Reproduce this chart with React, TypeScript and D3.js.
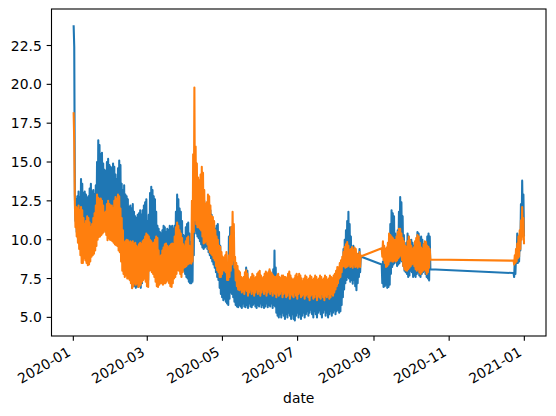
import React from 'react'
import * as d3 from 'd3'

// x tick labels (also the tick dates, first of month)
const xTickLabels = ['2020-01', '2020-03', '2020-05', '2020-07', '2020-09', '2020-11', '2021-01']
const yTicks = [5.0, 7.5, 10.0, 12.5, 15.0, 17.5, 20.0, 22.5]

// start day of each continuous stretch of data
const segmentStarts = ['2020-01-01', '2020-09-07', '2020-12-23']

// daily high / low of each series
// stretch 1: 2020-01-01 .. 2020-08-21
const blueHigh1 = [
  23.8, 12.9, 12.6, 12.8, 13.1, 12.7, 13.9, 13.6, 13.0, 13.1,
  12.9, 12.7, 12.8, 13.3, 13.6, 13.1, 13.2, 12.9, 13.5, 15.0,
  16.4, 16.1, 15.5, 15.6, 14.9, 14.5, 14.4, 15.0, 15.2, 14.8,
  14.7, 14.6, 14.9, 14.7, 14.2, 13.9, 14.6, 15.1, 14.8, 13.6,
  13.2, 13.5, 12.9, 12.8, 12.6, 12.1, 12.2, 12.0, 12.3, 11.8,
  11.5, 11.4, 11.6, 11.7, 11.9, 11.6, 11.9, 12.2, 12.4, 12.6,
  11.2, 11.6, 13.0, 13.4, 13.2, 12.8, 12.6, 11.8, 10.9, 10.7,
  10.5, 10.4, 10.6, 10.9, 10.8, 10.5, 10.7, 10.6, 10.9, 10.8,
  10.9, 10.7, 10.9, 11.8, 12.9, 12.6, 12.0, 11.8, 11.2, 10.3,
  10.2, 10.8, 11.0, 11.1, 10.4, 9.8, 10.6, 12.5, 13.2, 12.9,
  12.7, 12.7, 12.3, 11.8, 11.7, 12.2, 12.5, 12.3, 11.8, 11.6,
  11.9, 11.9, 11.6, 11.0, 10.6, 10.7, 10.9, 11.0, 10.5, 9.6,
  8.9, 8.7, 8.5, 8.3, 8.2, 8.1, 10.2, 10.8, 9.6, 10.3,
  9.5, 8.4, 8.3, 7.6, 7.2, 7.0, 7.3, 7.1, 7.4, 7.6,
  8.2, 8.0, 7.3, 7.1, 7.4, 7.2, 7.0, 7.3, 7.1, 7.4,
  7.2, 7.0, 7.3, 7.1, 7.4, 7.2, 7.3, 7.0, 7.6, 8.0,
  7.4, 7.2, 8.1, 9.3, 8.2, 6.8, 6.9, 6.6, 6.8, 6.7,
  6.9, 6.6, 6.8, 6.7, 6.9, 6.6, 6.8, 6.7, 6.5, 6.8,
  6.6, 6.9, 6.7, 6.8, 6.6, 6.9, 6.7, 6.8, 6.6, 6.9,
  6.7, 7.0, 6.8, 6.6, 6.9, 6.7, 7.0, 6.8, 6.6, 6.9,
  6.7, 7.0, 6.8, 6.6, 6.9, 6.7, 7.0, 6.8, 6.6, 6.9,
  6.8, 7.0, 6.9, 7.1, 7.0, 7.2, 7.5, 8.0, 8.7, 9.4,
  10.0, 10.6, 11.2, 11.8, 11.0, 10.2, 9.3, 9.6, 8.8, 8.5,
  9.0, 9.1, 9.4, 8.9,
]
const blueLow1 = [
  22.4, 11.2, 10.5, 10.1, 9.8, 9.4, 9.0, 9.1, 9.3, 9.2,
  9.0, 8.9, 9.0, 9.2, 9.4, 9.5, 9.6, 9.8, 10.1, 10.4,
  10.6, 10.7, 10.8, 10.9, 11.0, 10.8, 10.5, 10.4, 10.5, 10.4,
  10.3, 10.2, 10.1, 10.0, 9.9, 9.8, 9.6, 9.5, 9.0, 8.6,
  8.3, 8.1, 8.0, 7.9, 7.8, 7.6, 7.3, 6.9, 7.1, 7.0,
  6.9, 7.0, 6.95, 7.1, 6.9, 7.2, 7.5, 7.6, 7.5, 7.3,
  7.4, 8.2, 8.3, 8.1, 8.0, 7.9, 7.6, 7.3, 7.2, 7.4,
  7.4, 7.38, 7.3, 7.4, 7.5, 7.6, 7.5, 7.3, 7.2, 7.4,
  7.6, 7.8, 8.0, 8.2, 8.3, 8.2, 8.0, 7.9, 8.1, 8.0,
  7.8, 7.6, 7.5, 7.3, 7.2, 7.2, 7.3, 9.0, 10.6, 10.4,
  10.2, 10.1, 9.9, 9.7, 9.5, 9.4, 9.5, 9.6, 9.4, 9.2,
  9.0, 8.8, 8.6, 8.4, 8.2, 7.9, 7.6, 7.4, 6.9, 6.5,
  6.3, 6.1, 6.2, 6.0, 5.9, 5.8, 6.2, 6.6, 6.5, 6.3,
  6.0, 5.8, 5.7, 5.66, 5.8, 5.7, 5.6, 5.9, 5.7, 5.66,
  5.8, 5.6, 5.9, 5.7, 5.66, 5.8, 5.9, 5.7, 5.6, 5.8,
  5.7, 5.9, 5.66, 5.8, 5.6, 5.7, 5.9, 5.66, 5.8, 5.7,
  5.9, 5.6, 5.8, 5.7, 5.3, 5.1, 5.0, 5.2, 5.0, 5.3,
  5.1, 4.9, 5.2, 5.0, 5.3, 5.1, 4.9, 5.2, 4.9, 4.8,
  5.1, 5.3, 5.0, 5.2, 4.9, 5.1, 5.3, 5.0, 5.2, 5.4,
  5.1, 5.3, 5.5, 5.2, 5.0, 5.4, 5.2, 5.0, 5.3, 5.45,
  5.2, 5.0, 5.3, 5.5, 5.1, 5.3, 5.0, 5.2, 5.4, 5.1,
  5.3, 5.45, 5.2, 5.4, 5.5, 5.3, 5.4, 5.8, 6.3, 6.8,
  7.2, 7.4, 7.6, 7.5, 7.3, 7.4, 7.17, 7.4, 7.0, 6.74,
  7.2, 7.6, 7.9, 8.9,
]
const orangeHigh1 = [
  18.2, 12.3, 12.1, 12.0, 12.2, 11.9, 12.1, 11.9, 11.4, 11.0,
  11.2, 11.5, 11.4, 11.1, 10.8, 11.0, 11.4, 11.7, 12.2, 12.9,
  12.7, 12.6, 12.65, 12.5, 12.2, 11.7, 11.8, 12.3, 12.5, 12.3,
  12.2, 12.2, 12.0, 12.5, 12.75, 12.6, 12.9, 12.8, 12.0, 11.4,
  10.6, 9.8, 9.9, 10.0, 9.96, 9.8, 9.9, 9.8, 9.9, 9.7,
  9.8, 9.6, 9.5, 9.7, 9.8, 9.7, 9.9, 10.0, 10.2, 10.4,
  10.3, 10.2, 10.0, 9.9, 9.75, 9.8, 10.0, 10.2, 10.1, 9.3,
  8.9, 9.0, 9.3, 9.5, 9.7, 9.75, 9.6, 9.5, 9.6, 9.7,
  9.75, 9.7, 10.2, 10.8, 11.1, 10.9, 10.6, 10.4, 10.1, 9.7,
  9.55, 9.9, 10.1, 10.2, 9.6, 9.3, 12.5, 15.5, 19.8, 16.0,
  14.9, 14.0, 13.8, 14.2, 14.7, 14.3, 13.2, 12.3, 12.4, 12.9,
  12.8, 12.2, 11.5, 11.46, 11.2, 10.6, 10.2, 10.0, 9.6, 9.55,
  9.2, 8.9, 8.8, 9.0, 9.2, 8.3, 9.0, 10.2, 10.8, 11.8,
  11.0, 8.9, 8.5, 8.3, 8.0, 7.9, 7.6, 7.5, 7.6, 7.9,
  8.03, 7.8, 7.5, 7.4, 7.6, 7.8, 7.7, 7.5, 7.6, 7.8,
  7.9, 8.0, 7.7, 7.5, 7.6, 7.8, 7.95, 7.8, 7.9, 8.1,
  7.9, 7.8, 7.7, 7.6, 7.6, 7.7, 7.8, 7.6, 7.5, 7.7,
  7.7, 7.6, 7.6, 7.5, 7.8, 7.95, 7.7, 7.5, 7.4, 7.5,
  7.7, 7.8, 7.6, 7.8, 7.7, 7.5, 7.3, 7.5, 7.7, 7.6,
  7.4, 7.5, 7.7, 7.6, 7.4, 7.5, 7.7, 7.6, 7.4, 7.5,
  7.7, 7.6, 7.4, 7.5, 7.7, 7.6, 7.4, 7.5, 7.7, 7.6,
  7.5, 7.7, 7.8, 8.0, 8.24, 8.2, 8.5, 8.67, 8.9, 9.2,
  9.53, 9.7, 9.85, 9.6, 9.3, 9.4, 9.53, 9.3, 9.5, 9.4,
  9.1, 9.0, 9.2, 9.0,
]
const orangeLow1 = [
  16.3, 10.8, 10.2, 9.8, 9.4, 9.0, 8.5, 8.5, 8.8, 8.67,
  8.5, 8.35, 8.4, 8.6, 8.9, 9.0, 9.1, 9.3, 9.6, 10.0,
  10.17, 10.2, 10.3, 10.4, 10.5, 10.6, 10.3, 9.96, 10.1, 10.0,
  9.96, 9.9, 9.8, 9.7, 9.64, 9.6, 9.3, 9.2, 8.6, 8.0,
  7.8, 7.6, 7.7, 7.5, 7.5, 7.4, 7.2, 6.87, 7.0, 7.2,
  7.1, 7.2, 6.95, 7.0, 7.1, 7.3, 7.4, 7.5, 7.3, 7.0,
  6.95, 8.0, 8.03, 7.9, 7.8, 7.6, 7.3, 7.0, 6.95, 7.1,
  7.2, 7.2, 7.1, 7.2, 7.2, 7.3, 7.38, 7.2, 7.0, 6.95,
  7.2, 7.5, 7.6, 7.8, 8.03, 8.0, 7.8, 7.6, 7.9, 8.2,
  8.24, 8.3, 8.4, 8.46, 8.5, 8.46, 8.6, 10.5, 11.25, 11.0,
  10.8, 10.8, 10.7, 10.6, 10.2, 9.75, 9.8, 9.9, 9.7, 9.4,
  9.2, 9.1, 9.0, 8.8, 8.67, 8.3, 8.03, 7.9, 7.6, 7.6,
  7.8, 8.03, 8.0, 7.9, 7.4, 7.4, 7.6, 8.0, 8.4, 8.67,
  8.2, 7.38, 7.0, 6.8, 6.74, 6.8, 6.6, 6.7, 6.5, 6.8,
  6.7, 6.4, 6.6, 6.8, 6.5, 6.7, 6.4, 6.6, 6.8, 6.5,
  6.7, 6.4, 6.6, 6.8, 6.5, 6.7, 6.4, 6.6, 6.8, 6.5,
  6.7, 6.4, 6.6, 6.5, 6.3, 6.6, 6.4, 6.5, 6.7, 6.3,
  6.5, 6.6, 6.3, 6.4, 6.6, 6.2, 6.5, 6.4, 6.3, 6.6,
  6.4, 6.2, 6.5, 6.6, 6.3, 6.4, 6.5, 6.2, 6.4, 6.5,
  6.3, 6.1, 6.4, 6.5, 6.2, 6.3, 6.5, 6.1, 6.4, 6.3,
  6.2, 6.5, 6.3, 6.1, 6.4, 6.3, 6.5, 6.2, 6.3, 6.5,
  6.4, 6.6, 6.8, 7.0, 7.2, 7.5, 7.6, 7.9, 8.3, 8.3,
  8.2, 8.24, 8.3, 8.4, 8.24, 8.3, 8.2, 8.4, 8.24, 8.3,
  8.2, 8.3, 8.24, 8.93,
]

// stretch 2: 2020-09-07 .. 2020-10-16
const blueHigh2 = [
  8.4, 8.6, 8.8, 8.67, 9.0, 9.5, 9.9, 11.0, 11.9, 11.7,
  11.5, 10.4, 9.96, 10.6, 11.8, 12.75, 12.4, 11.5, 10.3, 9.53,
  9.8, 10.4, 10.2, 9.96, 10.0, 9.8, 9.6, 9.53, 9.9, 10.5,
  10.4, 10.1, 10.2, 10.0, 9.7, 9.53, 9.7, 10.2, 10.4, 10.2,
]
const blueLow2 = [
  7.2, 6.95, 7.0, 7.1, 6.9, 6.95, 7.1, 7.8, 8.24, 8.4,
  8.5, 8.6, 8.3, 8.4, 8.5, 8.67, 8.6, 8.3, 8.0, 7.9,
  7.8, 7.6, 7.7, 8.0, 7.9, 7.6, 7.7, 7.6, 7.8, 7.9,
  7.7, 7.6, 7.8, 7.9, 8.0, 7.8, 7.6, 7.5, 7.38, 8.1,
]
const orangeHigh2 = [
  9.45, 9.9, 9.6, 9.4, 9.5, 9.8, 10.4, 10.3, 10.2, 10.1,
  10.0, 9.96, 10.2, 10.5, 10.7, 10.7, 10.4, 10.1, 9.9, 9.6,
  9.53, 9.9, 10.2, 9.96, 9.6, 9.4, 9.5, 9.9, 10.1, 10.3,
  10.2, 9.8, 9.5, 9.4, 9.7, 9.9, 9.85, 9.6, 9.53, 9.4,
]
const orangeLow2 = [
  8.9, 8.7, 8.5, 8.24, 8.3, 8.4, 8.6, 8.67, 8.6, 8.6,
  8.67, 8.6, 8.67, 8.8, 8.9, 9.0, 8.67, 8.3, 8.1, 8.03,
  8.0, 8.1, 8.2, 8.3, 8.4, 8.46, 8.3, 8.1, 8.0, 8.1,
  7.9, 7.8, 7.9, 8.0, 8.1, 8.0, 7.8, 7.9, 8.2, 8.72,
]

// stretch 3: 2020-12-23 .. 2020-12-31
const blueHigh3 = [7.85, 8.67, 9.0, 10.4, 9.5, 10.3, 12.3, 13.8, 12.9]
const blueLow3 = [7.6, 7.8, 8.5, 8.5, 8.6, 9.3, 10.2, 11.25, 10.2]
const orangeHigh3 = [8.65, 9.0, 9.4, 9.75, 10.2, 10.6, 11.25, 12.1, 11.4]
const orangeLow3 = [8.4, 8.5, 8.6, 8.8, 8.9, 9.4, 10.0, 10.2, 9.7]

const DAY = 86400000
const W = 556
const H = 416
const left = 51.5
const right = 546
const top = 9
const bottom = 336
const fontPx = 13.9
const tickLen = 4.86

type Pt = { t: Date; v: number }

function buildSeries(highs: number[][], lows: number[][]): Pt[] {
  const pts: Pt[] = []
  highs.forEach((hi, s) => {
    const start = new Date(segmentStarts[s] + 'T00:00:00Z').getTime()
    hi.forEach((h, i) => {
      pts.push({ t: new Date(start + (i + 0.25) * DAY), v: h })
      pts.push({ t: new Date(start + (i + 0.75) * DAY), v: lows[s][i] })
    })
  })
  return pts
}

const blueSeries = buildSeries([blueHigh1, blueHigh2, blueHigh3], [blueLow1, blueLow2, blueLow3])
const orangeSeries = buildSeries([orangeHigh1, orangeHigh2, orangeHigh3], [orangeLow1, orangeLow2, orangeLow3])

export default function App() {
  const x = d3.scaleUtc()
    .domain([new Date('2019-12-14T07:00:00Z'), new Date('2021-01-18T14:00:00Z')])
    .range([left, right])
  const y = d3.scaleLinear().domain([3.8, 24.85]).range([bottom, top])

  const line = d3.line<Pt>()
    .x(d => x(d.t))
    .y(d => y(d.v))

  const font = 'DejaVu Sans, sans-serif'
  // rotated labels: bbox top-right corner sits under the tick
  const asc = 0.76 * fontPx
  const desc = 0.24 * fontPx
  const labelTop = bottom + tickLen + 4.86

  return (
    <svg width={W} height={H} style={{ position: 'absolute', left: 0, top: 0, background: '#fff' }}
      fontFamily={font}>
      <rect x={0} y={0} width={W} height={H} fill="#fff" />
      <path d={line(blueSeries) || ''} fill="none" stroke="#1f77b4" strokeWidth={2.08} strokeLinejoin="round" />
      <path d={line(orangeSeries) || ''} fill="none" stroke="#ff7f0e" strokeWidth={2.08} strokeLinejoin="round" />

      {/* frame */}
      <rect x={left} y={top} width={right - left} height={bottom - top} fill="none" stroke="#000" strokeWidth={1.1} />

      {/* y axis */}
      {yTicks.map(t => (
        <g key={t}>
          <line x1={left - tickLen} x2={left} y1={y(t)} y2={y(t)} stroke="#000" strokeWidth={1.1} />
          <text x={left - tickLen - 4.86} y={y(t)} dy="0.36em" textAnchor="end" fontSize={fontPx} fill="#000">
            {t.toFixed(1)}
          </text>
        </g>
      ))}

      {/* x axis */}
      {xTickLabels.map(lbl => {
        const px = x(new Date(lbl + '-01T00:00:00Z'))
        const ax = px - 0.5 * desc
        const ay = labelTop + 0.866 * asc
        return (
          <g key={lbl}>
            <line x1={px} x2={px} y1={bottom} y2={bottom + tickLen} stroke="#000" strokeWidth={1.1} />
            <text x={ax} y={ay} transform={`rotate(-30, ${ax}, ${ay})`} textAnchor="end" fontSize={fontPx} fill="#000">
              {lbl}
            </text>
          </g>
        )
      })}

      <text x={(left + right) / 2} y={403} textAnchor="middle" fontSize={fontPx} fill="#000">date</text>
    </svg>
  )
}
